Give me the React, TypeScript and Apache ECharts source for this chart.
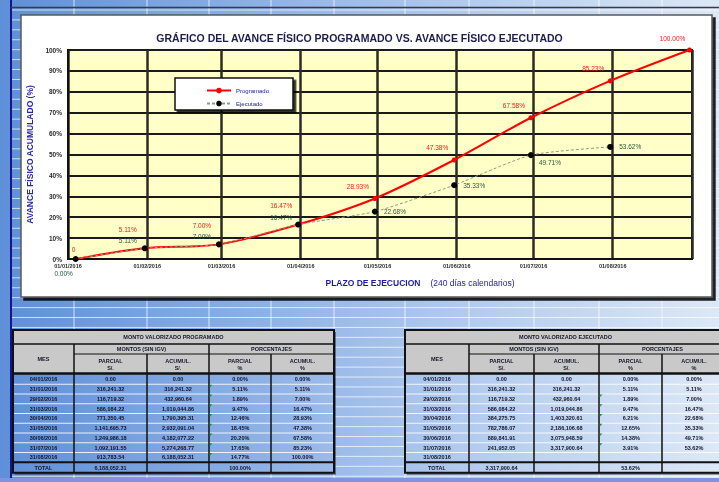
import React, { useEffect, useRef } from 'react';
import * as echarts from 'echarts';

// ---------- DATA ----------
const pointDates = ['2016-01-04', '2016-01-31', '2016-02-29', '2016-03-31', '2016-04-30', '2016-05-31', '2016-06-30', '2016-07-31', '2016-08-31'];
const axisMonthStarts = ['2016-01-01', '2016-02-01', '2016-03-01', '2016-04-01', '2016-05-01', '2016-06-01', '2016-07-01', '2016-08-01', '2016-09-01'];
const axisLabelMonths = ['2016-01-01', '2016-02-01', '2016-03-01', '2016-04-01', '2016-05-01', '2016-06-01', '2016-07-01', '2016-08-01'];

const progAcumPct = [0, 5.11, 7.0, 16.47, 28.93, 47.38, 67.58, 85.23, 100.0];
const execAcumPct = [0, 5.11, 7.0, 16.47, 22.68, 35.33, 49.71, 53.62];
const progParcialPct = [0, 5.11, 1.89, 9.47, 12.46, 18.45, 20.2, 17.65, 14.77];
const execParcialPct = [0, 5.11, 1.89, 9.47, 6.21, 12.65, 14.38, 3.91];
const progParcialSoles = [0, 316241.32, 116719.32, 586084.22, 771350.45, 1141695.73, 1249986.18, 1092191.55, 913783.54];
const progAcumSoles = [0, 316241.32, 432960.64, 1019044.86, 1790395.31, 2932091.04, 4182077.22, 5274268.77, 6188052.31];
const execParcialSoles = [0, 316241.32, 116719.32, 586084.22, 384275.75, 782786.07, 889841.91, 241952.05];
const execAcumSoles = [0, 316241.32, 432960.64, 1019044.86, 1403320.61, 2186106.68, 3075948.59, 3317900.64];
const progTotalSoles = 6188052.31;
const progTotalPct = 100.0;
const execTotalSoles = 3317900.64;
const execTotalPct = 53.62;

const TITLE = 'GRÁFICO DEL AVANCE FÍSICO PROGRAMADO VS. AVANCE FÍSICO EJECUTADO';
const Y_NAME = 'AVANCE FÍSICO ACUMULADO (%)';
const X_NAME_A = 'PLAZO DE EJECUCION';
const X_NAME_B = '(240 días calendarios)';
const SERIES_NAMES = ['Programado', 'Ejecutado'];
const TABLE_TITLES = ['MONTO VALORIZADO PROGRAMADO', 'MONTO VALORIZADO EJECUTADO'];

// ---------- helpers ----------
const toTs = (s: string) => {
  const [y, m, d] = s.split('-').map(Number);
  return new Date(y, m - 1, d).getTime();
};
const pad = (n: number) => (n < 10 ? '0' + n : '' + n);
const fmtDate = (ts: number) => {
  const d = new Date(ts);
  return pad(d.getDate()) + '/' + pad(d.getMonth() + 1) + '/' + d.getFullYear();
};
const fmtMoney = (v: number) => v.toLocaleString('en-US', { minimumFractionDigits: 2, maximumFractionDigits: 2 });
const fmtPct = (v: number) => v.toFixed(2) + '%';

const FONT = 'Liberation Sans, Arial, sans-serif';
const sheetGradient = {
  type: 'linear', x: 0, y: 0, x2: 719, y2: 0, global: true,
  colorStops: [
    { offset: 0, color: '#5E8FD8' },
    { offset: 0.5, color: '#A0BEEA' },
    { offset: 1, color: '#DCE8F6' },
  ],
};

const line = (x1: number, y1: number, x2: number, y2: number, stroke: string, lineWidth: number, z = -5) => ({
  type: 'line', z, silent: true,
  shape: { x1, y1, x2, y2 },
  style: { stroke, lineWidth },
});
const rect = (x: number, y: number, width: number, height: number, style: any, z = -5) => ({
  type: 'rect', z, silent: true, shape: { x, y, width, height }, style,
});
const txt = (text: string, x: number, y: number, extra: any = {}, z = -4) => ({
  type: 'text', z, silent: true,
  style: {
    text, x, y, align: 'center', verticalAlign: 'middle',
    fontSize: 5.5, fontWeight: 'bold', fontFamily: FONT, fill: '#15152a', ...extra,
  },
});

function buildTable(cols: number[], title: string, rows: string[][], total: string[], warnRows: number[]) {
  const els: any[] = [];
  const L = cols[0];
  const R = cols[cols.length - 1];
  const top = 330, t1 = 344, t2 = 354, t3 = 373.5;
  const rowH = 9.75;
  const nRows = rows.length;
  const dataTop = t3 + 1;
  const dataBot = dataTop + rowH * nRows;
  const bot = dataBot + 10.5;
  els.push(rect(L + 2, top + 2, R - L, bot - top, { fill: 'rgba(40,40,60,0.55)' }, -6));
  els.push(rect(L, t3, R - L, bot - t3, { fill: sheetGradient }));
  els.push(rect(L, top, R - L, t3 - top, { fill: '#C9C9C9' }));
  for (let i = 1; i < nRows; i++) {
    els.push(line(L, dataTop + i * rowH, R, dataTop + i * rowH, 'rgba(255,255,255,0.85)', 1));
  }
  els.push(line(L, t1, R, t1, '#111', 1.5));
  els.push(line(cols[1], t2, R, t2, '#111', 1));
  els.push(line(cols[1], t1, cols[1], bot, '#111', 1.5));
  els.push(line(cols[3], t1, cols[3], bot, '#111', 1.5));
  els.push(line(cols[2], t2, cols[2], bot, '#111', 1.5));
  els.push(line(cols[4], t2, cols[4], bot, '#111', 1.5));
  els.push(line(L, t3, R, t3, '#111', 2.5));
  els.push(line(L, dataBot, R, dataBot, '#111', 2));
  els.push(rect(L, top, R - L, bot - top, { fill: 'none', stroke: '#111', lineWidth: 2 }));
  warnRows.forEach((i) => {
    els.push({
      type: 'polygon', z: -4, silent: true,
      shape: { points: [[cols[3] + 0.8, dataTop + i * rowH + 0.5], [cols[3] + 3.5, dataTop + i * rowH + 0.5], [cols[3] + 0.8, dataTop + i * rowH + 3.2]] },
      style: { fill: '#1c9a2c' },
    });
  });
  const cx = (a: number, b: number) => (a + b) / 2;
  els.push(txt(title, cx(L, R), (top + t1) / 2));
  els.push(txt('MES', cx(cols[0], cols[1]), (t1 + t3) / 2));
  els.push(txt('MONTOS (SIN IGV)', cx(cols[1], cols[3]), (t1 + t2) / 2));
  els.push(txt('PORCENTAJES', cx(cols[3], cols[5]), (t1 + t2) / 2));
  const heads = [['PARCIAL', 'S/.'], ['ACUMUL.', 'S/.'], ['PARCIAL', '%'], ['ACUMUL.', '%']];
  heads.forEach((h, j) => {
    els.push(txt(h[0], cx(cols[j + 1], cols[j + 2]), 360.5));
    els.push(txt(h[1], cx(cols[j + 1], cols[j + 2]), 368));
  });
  rows.forEach((r, i) => {
    r.forEach((c, j) => {
      if (c) els.push(txt(c, cx(cols[j], cols[j + 1]), dataTop + rowH * (i + 0.5)));
    });
  });
  total.forEach((c, j) => {
    if (c) els.push(txt(c, cx(cols[j], cols[j + 1]), (dataBot + bot) / 2));
  });
  return els;
}

export default function App() {
  const ref = useRef<HTMLDivElement>(null);
  useEffect(() => {
    if (!ref.current) return;
    const chart = echarts.init(ref.current, undefined, { renderer: 'svg' });

    const progRows = pointDates.map((d, i) => [
      fmtDate(toTs(d)), fmtMoney(progParcialSoles[i]), fmtMoney(progAcumSoles[i]), fmtPct(progParcialPct[i]), fmtPct(progAcumPct[i]),
    ]);
    const execRows = pointDates.map((d, i) => [
      fmtDate(toTs(d)),
      i < execAcumPct.length ? fmtMoney(execParcialSoles[i]) : '',
      i < execAcumPct.length ? fmtMoney(execAcumSoles[i]) : '',
      i < execAcumPct.length ? fmtPct(execParcialPct[i]) : '',
      i < execAcumPct.length ? fmtPct(execAcumPct[i]) : '',
    ]);

    const leftCols = [13, 74, 147, 209, 271, 334];
    const rightCols = [405, 469, 534, 599, 662, 726];
    const sheetCols = [74, 147, 209, 271, 334, 405, 469, 534, 599, 662];

    const bg: any[] = [];
    bg.push(rect(0, 0, 719, 482, { fill: sheetGradient }, -10));
    for (let k = 0; k < 49; k++) {
      const y = 10 + 9.92 * k;
      bg.push(line(12, y, 719, y, 'rgba(255,255,255,0.7)', 1, -9));
    }
    sheetCols.forEach((x) => bg.push(line(x, 0, x, 482, 'rgba(255,255,255,0.7)', 1, -9)));
    bg.push(line(11, 0, 11, 482, '#14148c', 2, -8));
    bg.push(line(11, 7.5, 719, 7.5, '#3a3a4a', 1.5, -8));
    bg.push(rect(0, 478, 719, 4, { fill: '#7F93DF' }, -8));
    bg.push(rect(21, 15, 691, 282, { fill: '#FFFFFF', stroke: '#5a5a5a', lineWidth: 1.5, shadowColor: 'rgba(0,0,0,0.85)', shadowOffsetX: 3, shadowOffsetY: 3, shadowBlur: 0 }, -7));

    const tables = [
      ...buildTable(leftCols, TABLE_TITLES[0], progRows, ['TOTAL', fmtMoney(progTotalSoles), '', fmtPct(progTotalPct), ''], [1, 2, 3, 4, 5, 6, 7, 8]),
      ...buildTable(rightCols, TABLE_TITLES[1], execRows, ['TOTAL', fmtMoney(execTotalSoles), '', fmtPct(execTotalPct), ''], [2, 3, 4, 5, 6, 7]),
    ];

    const legendBox = rect(175, 78, 118, 32, { fill: '#FFFFFF', stroke: '#111', lineWidth: 1.5, shadowColor: 'rgba(0,0,0,0.8)', shadowOffsetX: 2.5, shadowOffsetY: 2.5, shadowBlur: 0 }, 5);

    const xName = {
      type: 'text', z: 5, silent: true,
      style: {
        text: '{a|' + X_NAME_A + '}   {b|' + X_NAME_B + '}', x: 420, y: 283, align: 'center', verticalAlign: 'middle',
        rich: {
          a: { fontSize: 8.5, fontWeight: 'bold', fontFamily: FONT, fill: '#1b1ba6', color: '#1b1ba6' },
          b: { fontSize: 8.5, fontFamily: FONT, fill: '#1b1ba6', color: '#1b1ba6' },
        },
      },
    };

    const progData = pointDates.map((d, i) => {
      const coincide = i > 0 && execAcumPct[i] === progAcumPct[i];
      return {
        value: [toTs(d), progAcumPct[i]],
        label: { position: 'top', offset: i === 0 ? [-2, 1] : coincide ? [-17, -8] : [-17, -1] },
      };
    });
    const execShift: Record<number, number[]> = { 6: [0, 7] };
    const execData = execAcumPct.map((v, i) => {
      const coincide = i > 0 && v === progAcumPct[i];
      let label: any;
      if (i === 0) label = { position: 'bottom', offset: [-12, 3] };
      else if (coincide) label = { position: 'top', offset: [-17, 4] };
      else label = { position: 'right', offset: execShift[i] || [1, 0] };
      return { value: [toTs(pointDates[i]), v], label };
    });

    const option: any = {
      animation: false,
      title: {
        text: TITLE, left: 'center', top: 27,
        textStyle: { fontSize: 10.5, fontWeight: 'bold', color: '#1c1c4c', fontFamily: FONT },
      },
      legend: {
        data: SERIES_NAMES, orient: 'vertical', left: 201, top: 82.5,
        itemWidth: 24, itemHeight: 7, itemGap: 7, z: 6,
        textStyle: { fontSize: 6, color: '#20208a', fontFamily: FONT },
      },
      grid: {
        left: 68, right: 27, top: 50, bottom: 223, show: true,
        backgroundColor: '#FFFFC8', borderColor: '#111', borderWidth: 2,
      },
      xAxis: {
        type: 'value',
        min: toTs(axisMonthStarts[0]),
        max: toTs(axisMonthStarts[axisMonthStarts.length - 1]),
        axisLine: { show: true, lineStyle: { color: '#111', width: 2 } },
        axisTick: { show: false, customValues: axisMonthStarts.map(toTs) },
        axisLabel: {
          customValues: axisLabelMonths.map(toTs),
          formatter: (v: number) => fmtDate(v),
          fontSize: 5.5, fontWeight: 'bold', color: '#2a2a2a', fontFamily: FONT, margin: 4,
        },
        splitLine: { show: true, lineStyle: { color: '#2b2b22', width: 2.5 } },
      },
      yAxis: {
        type: 'value', min: 0, max: 100, interval: 10,
        name: Y_NAME, nameLocation: 'middle', nameGap: 26, nameRotate: 90,
        nameTextStyle: { fontSize: 8.5, fontWeight: 'bold', color: '#2a2aa0', fontFamily: FONT },
        axisLine: { show: true, lineStyle: { color: '#111', width: 2 } },
        axisTick: { show: false },
        axisLabel: {
          formatter: (v: number) => v + '%', fontSize: 6.5, fontWeight: 'bold', color: '#2a2a2a', fontFamily: FONT, margin: 6,
        },
        splitLine: { show: true, lineStyle: { color: '#1a1a1a', width: 2 } },
      },
      series: [
        {
          name: SERIES_NAMES[0], type: 'line', data: progData,
          smooth: 0.3,
          symbol: 'circle', symbolSize: 5,
          lineStyle: { color: '#FF0000', width: 2 },
          itemStyle: { color: '#FF0000' },
          label: {
            show: true, color: '#FF1414', fontSize: 6.5, fontFamily: FONT,
            formatter: (p: any) => (p.value[1] === 0 ? '0' : fmtPct(p.value[1])),
          },
          z: 3,
        },
        {
          name: SERIES_NAMES[1], type: 'line', data: execData,
          smooth: 0.2,
          symbol: 'circle', symbolSize: 6,
          lineStyle: { color: '#8c9c80', width: 1, type: [3, 2] },
          itemStyle: { color: '#000000' },
          label: {
            show: true, color: '#1f5a3c', fontSize: 6.5, fontFamily: FONT,
            formatter: (p: any) => fmtPct(p.value[1]),
          },
          z: 4,
        },
      ],
      graphic: { elements: [...bg, ...tables, legendBox, xName] },
    };
    chart.setOption(option);
    return () => chart.dispose();
  }, []);
  return <div ref={ref} style={{ position: 'fixed', left: 0, top: 0, width: 719, height: 482 }} />;
}
